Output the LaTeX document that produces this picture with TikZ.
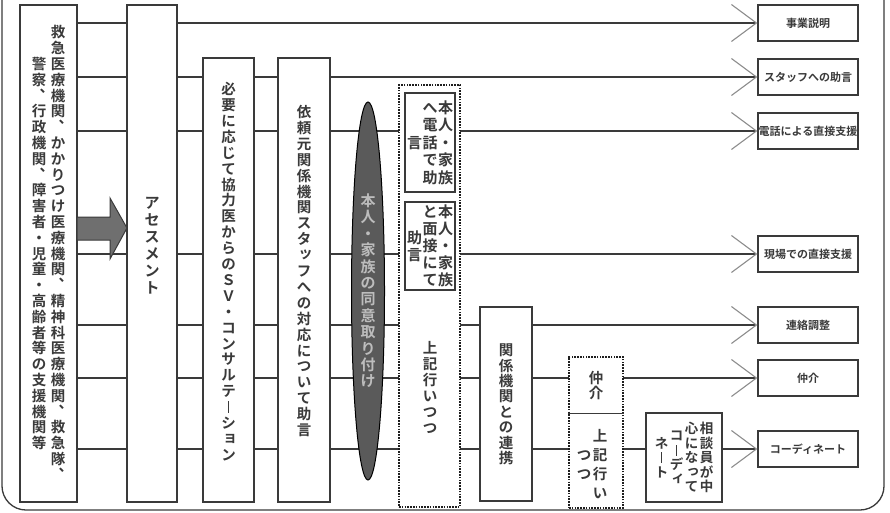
\documentclass[tikz,border=0pt]{standalone}
\usepackage{fontspec}
\usepackage{graphicx}
\usetikzlibrary{shapes.geometric,arrows.meta}
\newfontfamily\jph{Noto Sans CJK JP Bold}
\definecolor{ink}{HTML}{3A3A3A}
\definecolor{dots}{HTML}{1E1E1E}
\definecolor{barb}{HTML}{8C8C8C}
\definecolor{push}{HTML}{6F6F6F}
\definecolor{oval}{HTML}{5A5A5A}
\definecolor{ovaltext}{HTML}{BDBDBD}
\makeatletter
\newdimen\tate@pitch \newdimen\tate@gap \newdimen\tate@base
\newcommand\tate[5][0pt]{\smash{\raise#1\hbox{\fontsize{#2}{#2}\jph
  \tate@pitch=#3pt\tate@gap=#4pt
  \tate@base=\dimexpr(\tate@pitch-1em)/2+0.12em\relax
  \kern-\tate@gap#5}}}
\def\tcol#1{\kern\tate@gap\setbox0\vbox{\offinterlineskip\tate@go#1\relax}%
  \lower\dimexpr\ht0/2\relax\box0}
\def\tate@go#1{\ifx#1\relax\else\tate@slot{#1}\expandafter\tate@go\fi}
\def\tate@slot#1{\vbox to\tate@pitch{\vss\hbox to1em{\hss\smash{\tate@glyph{#1}}\hss}\kern\tate@base}}
\def\tate@move#1#2#3{\raise#2\hbox to1em{\kern#1#3\hss}}
\def\tate@bar{\hbox to1em{\hss\vrule width0.09em height0.8em depth0.02em\hss}}
\def\tate@glyph#1{%
  \ifx#1ー\tate@bar\else
  \ifx#1、\tate@move{0.55em}{0.6em}{#1}\else
  \ifx#1ッ\tate@move{0.12em}{0.12em}{#1}\else
  \ifx#1っ\tate@move{0.12em}{0.12em}{#1}\else
  \ifx#1ィ\tate@move{0.12em}{0.12em}{#1}\else
  \ifx#1ョ\tate@move{0.12em}{0.12em}{#1}\else
  #1\fi\fi\fi\fi\fi\fi}
\makeatother

\begin{document}
\begin{tikzpicture}[x=1pt,y=-1pt,
    box/.style={draw=ink,fill=white,line width=1.3pt,inner sep=0pt,text=ink},
    outbox/.style={box,minimum width=100pt,minimum height=36pt,font=\jph\fontsize{11}{13}\selectfont},
    dotbox/.style={draw=dots,fill=white,line width=2.4pt,dash pattern=on 1.6pt off 1.2pt,inner sep=0pt},
    flow/.style={draw=ink,line width=1.3pt,-{Straight Barb[length=25pt,width=37pt,line width=1.1pt,color=barb]}}]
    \useasboundingbox (0,0) rectangle (890,513);
    \clip (0,0) rectangle (890,513);
    \draw[draw=ink,line width=1.3pt,rounded corners=24pt] (2,-40) rectangle (884,510);

    \node[box,minimum width=57pt,minimum height=497pt] (src) at (48.5,253.5)
      {\tate{14.5}{15.8}{4.5}{\tcol{警察、行政機関、障害者・児童・高齢者等の支援機関等}\tcol{救急医療機関、かかりつけ医療機関、精神科医療機関、救急隊、}}};

    \foreach \n/\y/\t in {1/23/事業説明,2/77/スタッフへの助言,3/131/電話による直接支援,
      4/254/現場での直接支援,5/325/連絡調整,6/378/仲介,7/449/コーディネート}
    \node[outbox] (o\n) at (808,\y) {\t};
    \foreach \n in {1,...,7}
    \draw[flow] (src.east |- o\n.west) -- (o\n.west);

    \node[box,minimum width=50pt,minimum height=497pt] (asm) at (152,253.5) {\tate[8pt]{15}{17}{0}{\tcol{アセスメント}}};
    \node[box,minimum width=51pt,minimum height=444pt] (sv) at (228.5,280)
      {\tate[8pt]{14.5}{15.9}{0}{\tcol{必要に応じて協力医からのＳＶ・コンサルテーション}}};
    \node[box,minimum width=52pt,minimum height=444pt] (irai) at (304,280)
      {\tate[9pt]{14.5}{15.9}{0}{\tcol{依頼元関係機関スタッフへの対応について助言}}};
    \node[ellipse,draw=black,fill=oval,line width=1pt,minimum width=33pt,minimum height=378pt,
      inner sep=0pt,text=ovaltext] (doui) at (368,291) {\tate{15}{16.4}{0}{\tcol{本人・家族の同意取り付け}}};

    \node[dotbox,minimum width=61pt,minimum height=422pt] (dot1) at (429.5,296) {};
    \node[box,minimum width=50pt,minimum height=99pt] (tel) at (430,142.5)
      {\tate{15}{17.5}{0.5}{\tcol{言}\tcol{へ電話で助}\tcol{本人・家族}}};
    \node[box,minimum width=50pt,minimum height=88pt] (men) at (430,246)
      {\tate{15}{17}{0.5}{\tcol{助言}\tcol{と面接にて}\tcol{本人・家族}}};
    \node[text=ink] (jouki1) at (430,388) {\tate{14.5}{16}{0}{\tcol{上記行いつつ}}};

    \node[box,minimum width=52pt,minimum height=194pt] (renkei) at (506,404) {\tate{14.5}{15.4}{0}{\tcol{関係機関との連携}}};
    \node[dotbox,minimum width=54pt,minimum height=151pt] (dot2) at (596,432.5) {};
    \node[minimum width=52pt,minimum height=56pt,inner sep=0pt,text=ink] (chukai) at (596,385) {\tate{14.5}{15}{0}{\tcol{仲介}}};
    \draw[draw=ink,line width=1.3pt] (dot2.west |- chukai.south) -- (dot2.east |- chukai.south);
    \node[text=ink] (jouki2) at (592,464) {\tate{14.5}{19}{1.5}{\tcol{つつ}\tcol{上記行い}}};
    \node[box,minimum width=76pt,minimum height=89pt] (coord) at (684,457.5)
      {\tate{13.5}{14.5}{1.5}{\tcol{ネート}\tcol{コーディ}\tcol{心になって}\tcol{相談員が中}}};

    \filldraw[draw=ink,fill=push,line width=1pt] (77,217) -- (110,217) -- (110,198) -- (127,228)
      -- (110,259) -- (110,240) -- (77,240) -- cycle;
  \end{tikzpicture}
\end{document}
